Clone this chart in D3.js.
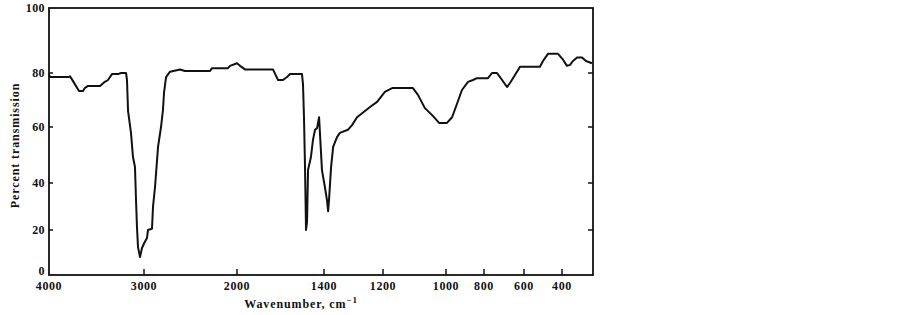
<!DOCTYPE html>
<html>
<head>
<meta charset="utf-8">
<script src="https://cdn.jsdelivr.net/npm/d3@7"></script>
<style>
  body { margin: 0; background: #fff; }
  text { font-family: "Liberation Serif", "DejaVu Serif", serif; font-weight: bold; fill: #111; }
</style>
</head>
<body>
<div id="canvas"></div>
<script>
// spectrum
var wavenumber = [4000, 3989, 3789, 3779, 3747, 3684, 3642, 3621, 3589, 3463, 3421, 3379, 3337, 3274, 3242, 3189,
  3179, 3168, 3137, 3116, 3095, 3084, 3074, 3063, 3042, 3021, 3000, 2968, 2957, 2914, 2903, 2882, 2849, 2817,
  2796, 2785, 2763, 2720, 2613, 2559, 2290, 2269, 2097, 2075, 2000, 1979, 1945, 1752, 1717, 1683, 1655, 1634,
  1552, 1545, 1538, 1531, 1524, 1517, 1510, 1490, 1476, 1462, 1448, 1434, 1428, 1414, 1397, 1390, 1386, 1383,
  1376, 1369, 1356, 1346, 1319, 1305, 1288, 1244, 1220, 1194, 1171, 1105, 1089, 1067, 1044, 1022, 995, 968,
  942, 916, 884, 858, 837, 780, 760, 735, 720, 685, 670, 635, 620, 516, 500, 474, 421, 395, 376, 361, 347,
  327, 303, 284, 255];
var transmission = [79.5, 78.5, 78.5, 78.8, 77, 73.3, 73.3, 74.5, 75.2, 75.2, 76.5, 77.4, 79.6, 79.6, 80, 80,
  77.4, 66, 57.9, 49.3, 45.7, 32.8, 21.3, 12.4, 8, 12, 14, 16.4, 20, 20.5, 30, 38, 52.9, 60,
  66.3, 72.6, 78.5, 80.4, 81.1, 80.6, 80.6, 81.5, 81.5, 82.2, 83, 82.2, 81.1, 81.1, 77.4, 77.4, 78.5, 79.6,
  79.6, 76, 63.6, 45.7, 20, 23.6, 44.7, 49.3, 55.4, 59, 59.6, 63.6, 57.9, 44.6, 38.3, 32.8, 28, 32.8,
  45.7, 52.9, 56.4, 57.9, 59, 60.7, 63.6, 67.4, 69.3, 73, 74.4, 74.4, 71.9, 67, 64.4, 61.5, 61.5, 63.6,
  68.6, 73.7, 76.7, 77.4, 78.1, 78.1, 80, 80, 78.5, 74.8, 76.3, 80.4, 81.9, 81.9, 83.7, 85.9, 85.9, 84.1, 82.2, 82.5, 83.7,
  84.8, 84.8, 83.7, 83];

var xTickValues = [3000, 2000, 1400, 1200, 1000, 800, 600, 400];
var xLabelValues = [4000, 3000, 2000, 1400, 1200, 1000, 800, 600, 400];
var yTickValues = [20, 40, 60, 80];
var yLabelValues = [0, 20, 40, 60, 80, 100];

var w = 903, h = 315;

var svg = d3.select("#canvas")
    .append("svg")
    .attr("width", w)
    .attr("height", h)
    .style("background-color", "white");

// the printed axis is not uniform, so the scales are piecewise
var x = d3.scaleLinear()
    .domain([4000, 3000, 2000, 1400, 1200, 1000, 800, 600, 400, 250])
    .range([49, 144, 237, 324, 383, 446, 484, 524, 562, 593]);

var y = d3.scaleLinear()
    .domain([0, 20, 40, 60, 80, 100])
    .range([275, 230, 183, 127, 73, 8]);

var x0 = x(4000), x1 = x(250), yTop = y(100), yBot = y(0);

// frame
svg.append("rect")
    .attr("x", x0).attr("y", yTop)
    .attr("width", x1 - x0).attr("height", yBot - yTop)
    .attr("fill", "none")
    .attr("stroke", "#111")
    .attr("stroke-width", 1.8);

// bottom ticks
svg.selectAll(".xtick")
    .data(xTickValues)
    .join("line")
    .attr("x1", d => x(d)).attr("x2", d => x(d))
    .attr("y1", yBot).attr("y2", yBot - 6)
    .attr("stroke", "#111").attr("stroke-width", 1.5);

// left and right ticks, pointing in
svg.selectAll(".ytickl")
    .data(yTickValues)
    .join("line")
    .attr("x1", x0).attr("x2", x0 + 4)
    .attr("y1", d => y(d)).attr("y2", d => y(d))
    .attr("stroke", "#111").attr("stroke-width", 1.5);

svg.selectAll(".ytickr")
    .data(yTickValues)
    .join("line")
    .attr("x1", x1).attr("x2", x1 - 5)
    .attr("y1", d => y(d)).attr("y2", d => y(d))
    .attr("stroke", "#111").attr("stroke-width", 1.5);

// tick labels
svg.selectAll(".xlab")
    .data(xLabelValues)
    .join("text")
    .attr("x", d => x(d))
    .attr("y", yBot + 15)
    .attr("text-anchor", "middle")
    .attr("font-size", 12)
    .attr("letter-spacing", 0.6)
    .text(d => d);

svg.selectAll(".ylab")
    .data(yLabelValues)
    .join("text")
    .attr("x", x0 - 4)
    .attr("y", d => d === 0 ? y(d) : y(d) + 4)
    .attr("text-anchor", "end")
    .attr("font-size", 12)
    .attr("letter-spacing", 0.4)
    .text(d => d);

// axis titles
svg.append("text")
    .attr("transform", "translate(19," + ((yTop + yBot) / 2 + 4) + ") rotate(-90)")
    .attr("text-anchor", "middle")
    .attr("font-size", 12)
    .attr("letter-spacing", 0.9)
    .text("Percent transmission");

var xt = svg.append("text")
    .attr("x", (x0 + x1) / 2 - 20)
    .attr("y", 308)
    .attr("text-anchor", "middle")
    .attr("font-size", 12)
    .attr("letter-spacing", 0.9);
xt.append("tspan").text("Wavenumber, cm");
xt.append("tspan").attr("dy", -5).attr("font-size", 9).text("\u22121");

// spectrum
var pts = wavenumber.map((d, i) => [d, transmission[i]]);
var line = d3.line()
    .x(d => x(d[0]))
    .y(d => y(d[1]));

svg.append("path")
    .datum(pts)
    .attr("d", line)
    .attr("fill", "none")
    .attr("stroke", "#111")
    .attr("stroke-width", 2)
    .attr("stroke-linejoin", "round");
</script>
</body>
</html>
